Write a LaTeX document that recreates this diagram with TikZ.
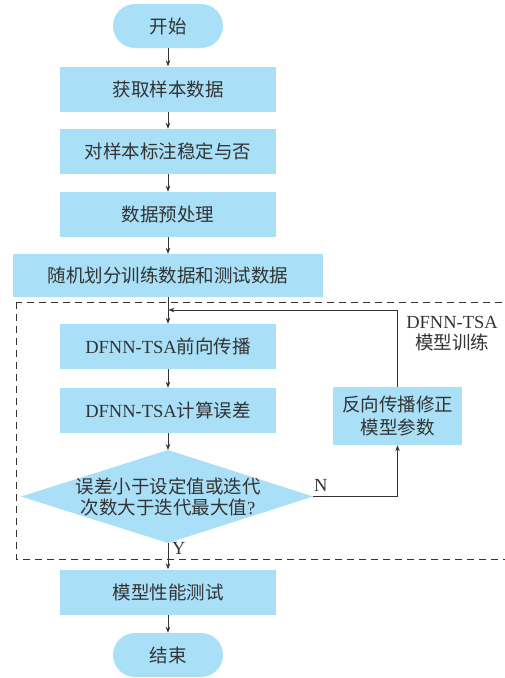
\documentclass[tikz,border=0pt]{standalone}
\usepackage{fontspec}
\setmainfont{Liberation Serif}
\newfontfamily\cjk{Noto Sans CJK SC}
\usetikzlibrary{arrows.meta}
\definecolor{boxfill}{HTML}{A9DFF7}
\definecolor{ink}{HTML}{333333}
\begin{document}
\begin{tikzpicture}[x=1pt,y=-1pt,
  every node/.style={font=\fontsize{18.5}{21}\selectfont, text=ink},
  box/.style={fill=boxfill, draw=none, minimum width=216pt, minimum height=45pt, inner sep=0pt},
  term/.style={box, minimum width=110pt, minimum height=44pt, rounded corners=22pt},
  arr/.style={draw=ink, line width=0.8pt, -{Stealth[length=6pt,width=4.5pt]}},
  ln/.style={draw=ink, line width=0.8pt}]
\useasboundingbox (0,0) rectangle (505,678);
\node[term] (start) at (168,26) {\cjk 开始};
\node[box] (b1) at (168,89) {\cjk 获取样本数据};
\node[box] (b2) at (168,151.5) {\cjk 对样本标注稳定与否};
\node[box] (b3) at (168,214.5) {\cjk 数据预处理};
\node[box, minimum width=310pt, minimum height=43pt] (b4) at (168,275.5) {\cjk 随机划分训练数据和测试数据};
\node[box] (b5) at (168,346.5) {DFNN-TSA{\cjk 前向传播}};
\node[box] (b6) at (168,410.5) {DFNN-TSA{\cjk 计算误差}};
\node[box, minimum width=129pt, minimum height=58pt, align=center, font=\fontsize{18.5}{23}\selectfont] (rb) at (397.5,416) {\cjk 反向传播修正\\\cjk 模型参数};
\coordinate (dt) at (168,450);
\coordinate (db) at (168,543);
\coordinate (dl) at (21,496.5);
\coordinate (dr) at (313,496.5);
\fill[boxfill] (dl) -- (dt) -- (dr) -- (db) -- cycle;
\node[align=center] (dtext) at (168,497) {{\cjk 误差小于设定值或迭代}\\{\cjk 次数大于迭代最大值}?};
\node[box] (b7) at (168,592) {\cjk 模型性能测试};
\node[term] (end) at (168,655) {\cjk 结束};
\draw[ink, line width=0.8pt, dash pattern=on 7pt off 5pt] (16,302) rectangle (512,559);
\node[align=center, inner sep=0pt] (lab) at (452,334) {DFNN-TSA\\{\cjk 模型训练}};
\draw[arr] (start) -- (b1);
\draw[arr] (b1) -- (b2);
\draw[arr] (b2) -- (b3);
\draw[arr] (b3) -- (b4);
\draw[arr] (b4) -- (b5);
\draw[arr] (b5) -- (b6);
\draw[arr] (b6) -- (dt);
\draw[arr] (db) -- (b7);
\draw[arr] (b7) -- (end);
\coordinate (fb) at (168.4,310);
\draw[arr] (rb.north) |- (fb);
\draw[arr] (dr) -| (rb.south);
\node[anchor=south west, inner sep=1pt] (nlab) at (313,493) {N};
\node[anchor=north west, inner sep=1pt] (ylab) at (171,541) {Y};
\end{tikzpicture}
\end{document}
